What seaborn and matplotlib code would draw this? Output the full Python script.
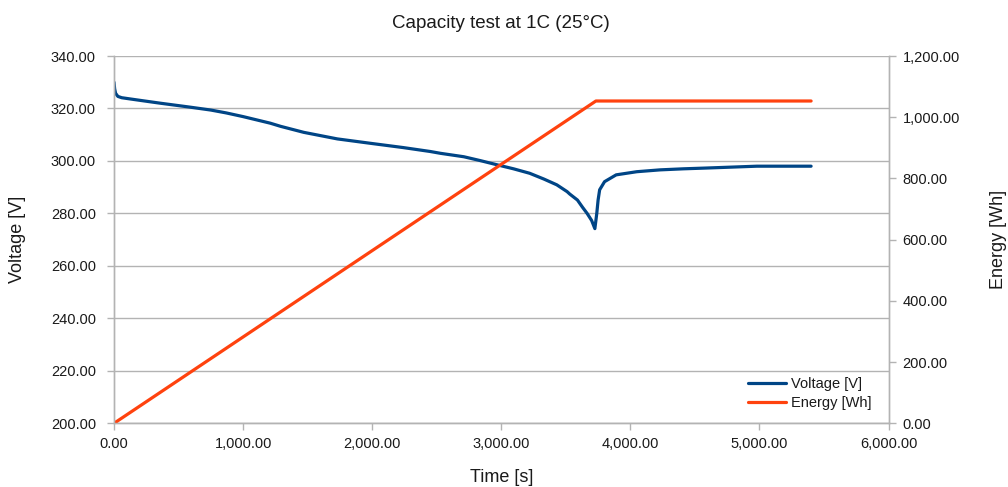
import matplotlib
matplotlib.use("Agg")
import matplotlib.pyplot as plt
import matplotlib.ticker as mticker
import seaborn as sns
import pandas as pd

# ---- data ----
volt_time = [0, 5, 12, 30, 60, 130, 230, 360, 590, 750, 870, 1000, 1210, 1290,
             1470, 1730, 1990, 2240, 2450, 2530, 2710, 2840, 2970, 3095, 3220,
             3330, 3430, 3510, 3530, 3590, 3630, 3665, 3700, 3725,
             3740, 3750, 3762, 3800, 3890, 4050, 4230, 4410, 4590, 4980, 5400]
voltage = [330.0, 327.5, 325.8, 324.6, 324.1, 323.6, 322.9, 322.0, 320.5, 319.4,
           318.3, 316.9, 314.4, 313.2, 310.9, 308.4, 306.7, 305.1, 303.6, 302.9,
           301.6, 300.1, 298.5, 297.0, 295.3, 293.1, 290.9, 288.3, 287.4, 285.1,
           282.3, 280.0, 277.3, 274.2,
           280.1, 285.1, 289.0, 292.1, 294.7, 295.9, 296.6, 297.0, 297.3, 298.0, 298.0]
energy_time = [0, 3733, 5400]
energy = [0.0, 1053.0, 1053.0]

title = "Capacity test at 1C (25°C)"
x_label = "Time [s]"
y_left_label = "Voltage [V]"
y_right_label = "Energy [Wh]"
series_names = ["Voltage [V]", "Energy [Wh]"]
colors = ["#004586", "#ff420e"]

df_v = pd.DataFrame({"t": volt_time, "v": voltage})
df_e = pd.DataFrame({"t": energy_time, "e": energy})

sns.set_theme(style="white")
plt.rcParams["font.family"] = ["Liberation Sans", "DejaVu Sans"]

fig = plt.figure(figsize=(10.08, 4.87), dpi=100)
ax = fig.add_axes([0.1131, 0.1308, 0.7684, 0.7542])
ax2 = ax.twinx()

sns.lineplot(data=df_v, x="t", y="v", ax=ax, color=colors[0], linewidth=2.3,
             estimator=None, sort=False, label=series_names[0], legend=False)
sns.lineplot(data=df_e, x="t", y="e", ax=ax2, color=colors[1], linewidth=2.3,
             estimator=None, sort=False, label=series_names[1], legend=False)
for ln in ax.get_lines() + ax2.get_lines():
    ln.set_solid_joinstyle("round")

grid_c = "#b3b3b3"
text_c = "#1a1a1a"

ax.set_xlim(0, 6000)
ax.set_ylim(200, 340)
ax2.set_ylim(0, 1200)
ax.set_xticks(range(0, 6001, 1000))
ax.set_yticks(range(200, 341, 20))
ax2.set_yticks(range(0, 1201, 200))
fmt = mticker.StrMethodFormatter("{x:,.2f}")
ax.xaxis.set_major_formatter(fmt)
ax.yaxis.set_major_formatter(fmt)
ax2.yaxis.set_major_formatter(fmt)

ax.yaxis.grid(True, color=grid_c, linewidth=1.0)
ax.xaxis.grid(False)
ax2.grid(False)
ax.set_axisbelow(True)

for a in (ax, ax2):
    for s in ("left", "right", "bottom"):
        a.spines[s].set_color(grid_c)
        a.spines[s].set_linewidth(1.0)
    a.spines["top"].set_visible(False)

ax.tick_params(axis="y", which="major", left=True, length=5, width=1, color=grid_c,
               labelsize=10.5, labelcolor=text_c, pad=8)
ax.tick_params(axis="x", which="major", bottom=True, length=5, width=1, color=grid_c,
               labelsize=10.5, labelcolor=text_c, pad=5)
ax2.tick_params(axis="y", which="major", right=True, length=5, width=1, color=grid_c,
                labelsize=10.5, labelcolor=text_c, pad=5)

ax.set_xlabel(x_label, fontsize=13, color=text_c, labelpad=13)
ax.set_ylabel(y_left_label, fontsize=13, color=text_c, labelpad=18)
ax2.set_ylabel(y_right_label, fontsize=13, color=text_c, labelpad=22)
ax.set_title(title, fontsize=13.5, color=text_c, pad=20)

h1 = ax.get_lines()[:1]
h2 = ax2.get_lines()[:1]
leg = ax2.legend(h1 + h2, series_names, loc="lower left", bbox_to_anchor=(0.818, 0.035),
                 frameon=False, fontsize=10.5, handlelength=2.6, handletextpad=0.35,
                 borderpad=0, borderaxespad=0, labelspacing=0.35)
for t in leg.get_texts():
    t.set_color(text_c)

fig.savefig("out.png", dpi=100, facecolor="white")
